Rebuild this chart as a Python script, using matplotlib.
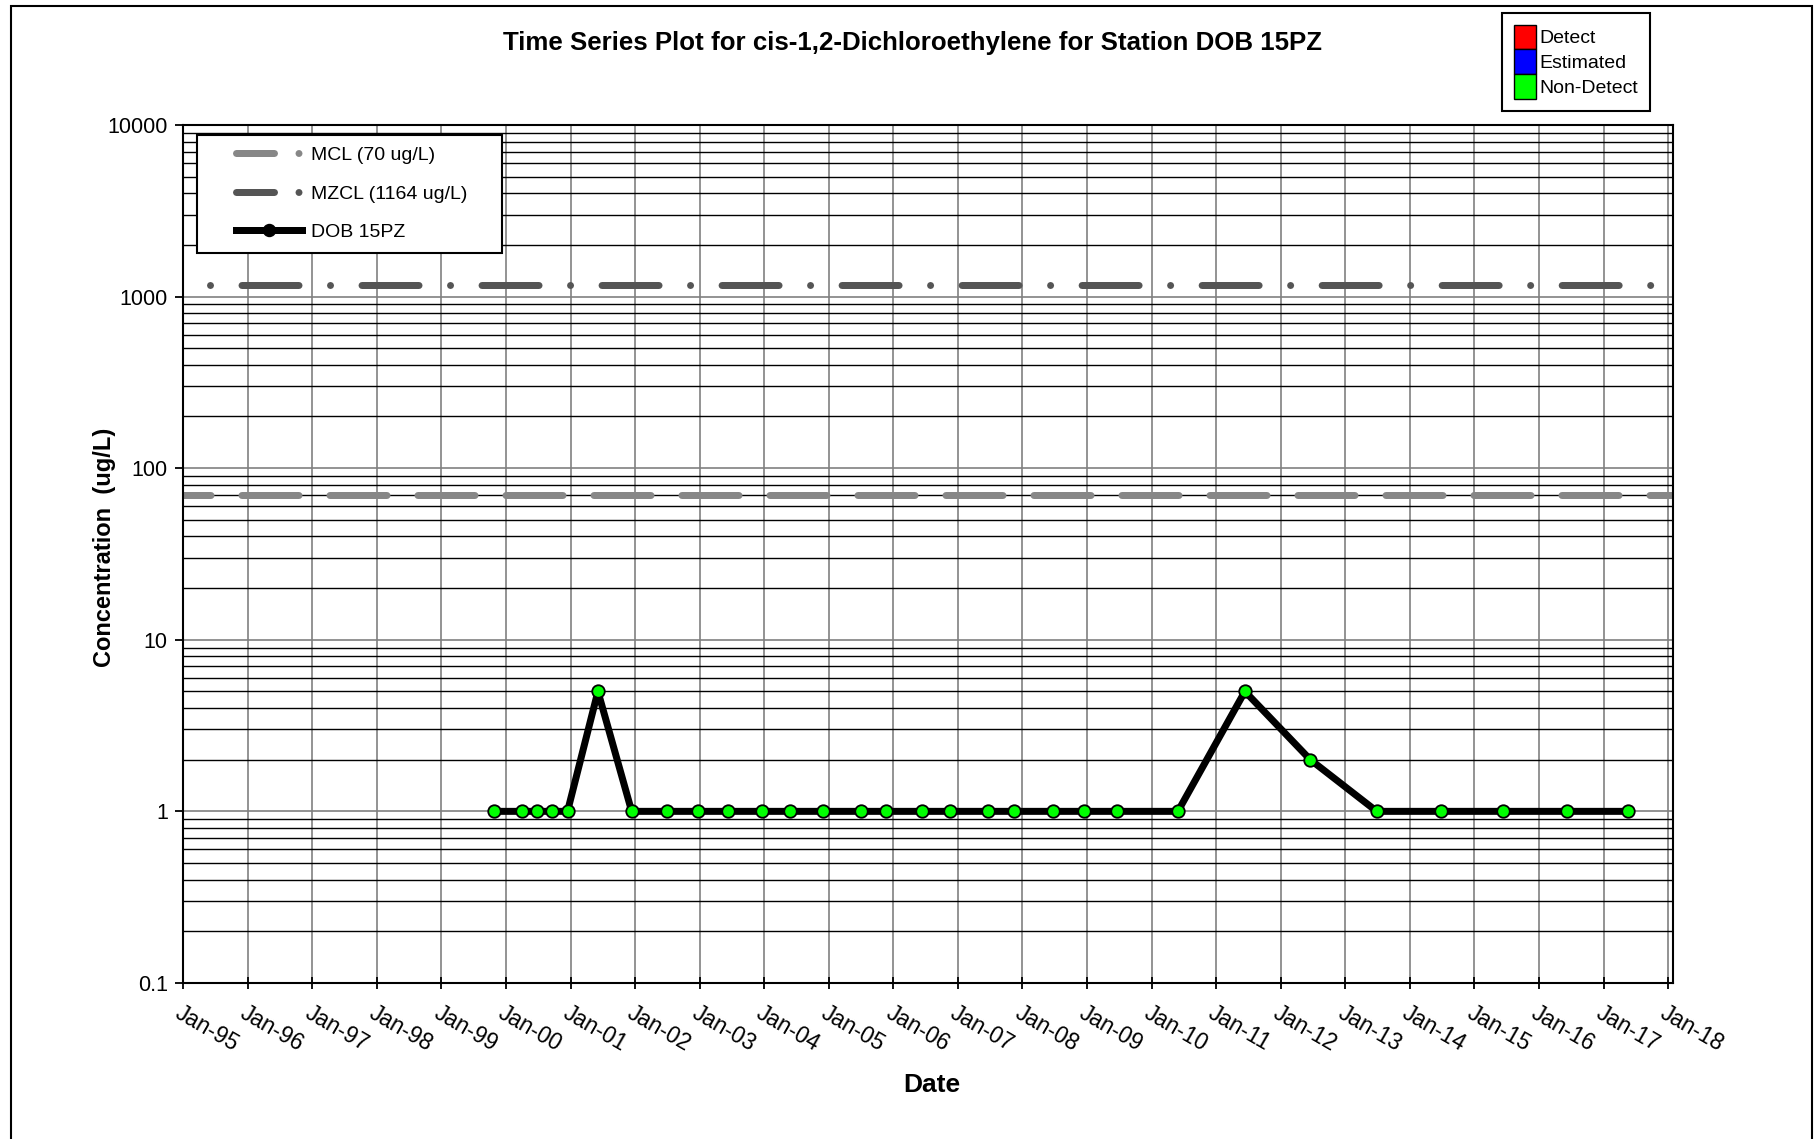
import matplotlib
matplotlib.use("Agg")
import matplotlib.pyplot as plt
import matplotlib.dates as mdates
import pandas as pd
from matplotlib.lines import Line2D
from matplotlib.patches import Patch, Rectangle
from matplotlib.legend_handler import HandlerLine2D
from matplotlib.ticker import LogLocator, NullFormatter, FuncFormatter

plt.rcParams['font.family'] = ['Liberation Sans', 'DejaVu Sans']
plt.rcParams['lines.scale_dashes'] = False

# sample data for DOB 15PZ
sample_dates = ['1999-10-27', '2000-03-30', '2000-06-24', '2000-09-17', '2000-12-15',
                '2001-06-05', '2001-12-13', '2002-07-01', '2002-12-23', '2003-06-10',
                '2003-12-20', '2004-05-26', '2004-12-01', '2005-07-01', '2005-11-20',
                '2006-06-13', '2006-11-17', '2007-06-20', '2007-11-17', '2008-06-20',
                '2008-12-13', '2009-06-17', '2010-05-30', '2011-06-13', '2012-06-17',
                '2013-06-28', '2014-06-25', '2015-06-10', '2016-06-06', '2017-05-18']
conc = [1, 1, 1, 1, 1, 5, 1, 1, 1, 1,
        1, 1, 1, 1, 1, 1, 1, 1, 1, 1,
        1, 1, 1, 5, 2, 1, 1, 1, 1, 1]
mcl = 70
mzcl = 1164
station = 'DOB 15PZ'
x_start = '1995-01-01'
x_end = '2018-01-29'

px = 0.72  # pixel -> point at dpi 100

fig = plt.figure(figsize=(18.14, 11.39), dpi=100)
ax = fig.add_axes([0.1009, 0.1370, 0.8214, 0.7533])

dates = pd.to_datetime(sample_dates)

ax.set_yscale('log')
ax.set_ylim(0.1, 10000)
ax.set_xlim(pd.Timestamp(x_start), pd.Timestamp(x_end))

# MCL / MZCL lines
ax.axhline(mcl, color='#878787', lw=7 * px, dash_capstyle='round',
           linestyle=(29.5 * px, (57 * px, 31 * px)), zorder=2)
ax.axhline(mzcl, color='#555555', lw=7 * px, dash_capstyle='round',
           linestyle=(61.5 * px, (57 * px, 31.5 * px, 0.01, 31.5 * px)), zorder=2)

ax.plot(dates, conc, color='black', lw=7 * px, marker='o', markersize=12.5 * px,
        markerfacecolor='#00ff00', markeredgecolor='black', markeredgewidth=1.3, zorder=3)

# axes, ticks, grid
ax.yaxis.set_major_locator(LogLocator(base=10, numticks=10))
ax.yaxis.set_minor_locator(LogLocator(base=10, subs=range(2, 10), numticks=20))
ax.yaxis.set_minor_formatter(NullFormatter())
ax.yaxis.set_major_formatter(FuncFormatter(lambda v, p: '%g' % v))
ax.xaxis.set_major_locator(mdates.YearLocator(1))
ax.xaxis.set_major_formatter(mdates.DateFormatter('%b-%y'))

ax.set_axisbelow(True)
ax.yaxis.grid(True, which='major', color='#808080', lw=1.2)
ax.yaxis.grid(True, which='minor', color='black', lw=1.0)
ax.xaxis.grid(True, which='major', color='#808080', lw=1.2)

for s in ax.spines.values():
    s.set_linewidth(1.5)
ax.tick_params(axis='y', which='major', length=6, width=1.3, labelsize=15.5, pad=5)
ax.tick_params(axis='y', which='minor', length=0)
ax.tick_params(axis='x', which='major', direction='inout', length=9, width=1.3,
               labelsize=16.3, pad=9, labelrotation=-30)
for lab in ax.get_xticklabels():
    lab.set_ha('left')
    lab.set_va('top')
    lab.set_rotation_mode('anchor')

ax.set_xlabel('Date', fontsize=19, fontweight='bold', va='center')
ax.xaxis.set_label_coords(0.5027, -0.119)
ax.set_ylabel('Concentration  (ug/L)', fontsize=17, fontweight='bold', va='center')
ax.yaxis.set_label_coords(-0.053, 0.508)

fig.text(0.503, 0.962, 'Time Series Plot for cis-1,2-Dichloroethylene for Station ' + station,
         ha='center', va='center', fontsize=18.6, fontweight='bold')

# legend inside plot
h_mcl = Line2D([], [], color='#878787', lw=7 * px, dash_capstyle='round',
               linestyle=(0, (38 * px, 24.5 * px, 0.01, 200 * px)))
h_mzcl = Line2D([], [], color='#555555', lw=7 * px, dash_capstyle='round',
                linestyle=(0, (38 * px, 24.5 * px, 0.01, 200 * px)))
h_stn = Line2D([], [], color='black', lw=7 * px, marker='o', markersize=12 * px,
               markerfacecolor='black', markeredgecolor='black')
fs = 14
em = fs / px
leg = ax.legend([h_mcl, h_mzcl, h_stn],
                ['MCL (%d ug/L)' % mcl, 'MZCL (%d ug/L)' % mzcl, station],
                loc='upper left', bbox_to_anchor=(0.0094, 0.5, 0.2047, 0.4883),
                mode='expand', borderaxespad=0, fontsize=fs, fancybox=False,
                framealpha=1, edgecolor='black', borderpad=0.6, labelspacing=1.07,
                handlelength=93 / em, handletextpad=9 / em, numpoints=1,
                handler_map={h_mcl: HandlerLine2D(xpad=27 / em),
                             h_mzcl: HandlerLine2D(xpad=27 / em),
                             h_stn: HandlerLine2D(xpad=27 / em)})
leg.get_frame().set_linewidth(1.5)
leg.set_zorder(5)

# detect legend at top right
cats = ['Detect', 'Estimated', 'Non-Detect']
cat_colors = ['#ff0000', '#0000ff', '#00ff00']
patches = [Patch(facecolor=c, edgecolor='black', lw=1) for c in cat_colors]
leg2 = fig.legend(patches, cats, loc='upper left', bbox_to_anchor=(1502 / 1814, 1 - 13 / 1139),
                  borderaxespad=0, fontsize=fs, fancybox=False, framealpha=1,
                  edgecolor='black', borderpad=0.6, labelspacing=0,
                  handlelength=22 / em, handleheight=1.58, handletextpad=4 / em)
leg2.get_frame().set_linewidth(1.5)

# outer frame
fig.patches.append(Rectangle((11 / 1814, -0.05), (1812 - 11) / 1814, 1 - 6 / 1139 + 0.05,
                             transform=fig.transFigure, fill=False, lw=1.5,
                             edgecolor='black', clip_on=False))

fig.savefig('out.png', dpi=100)
